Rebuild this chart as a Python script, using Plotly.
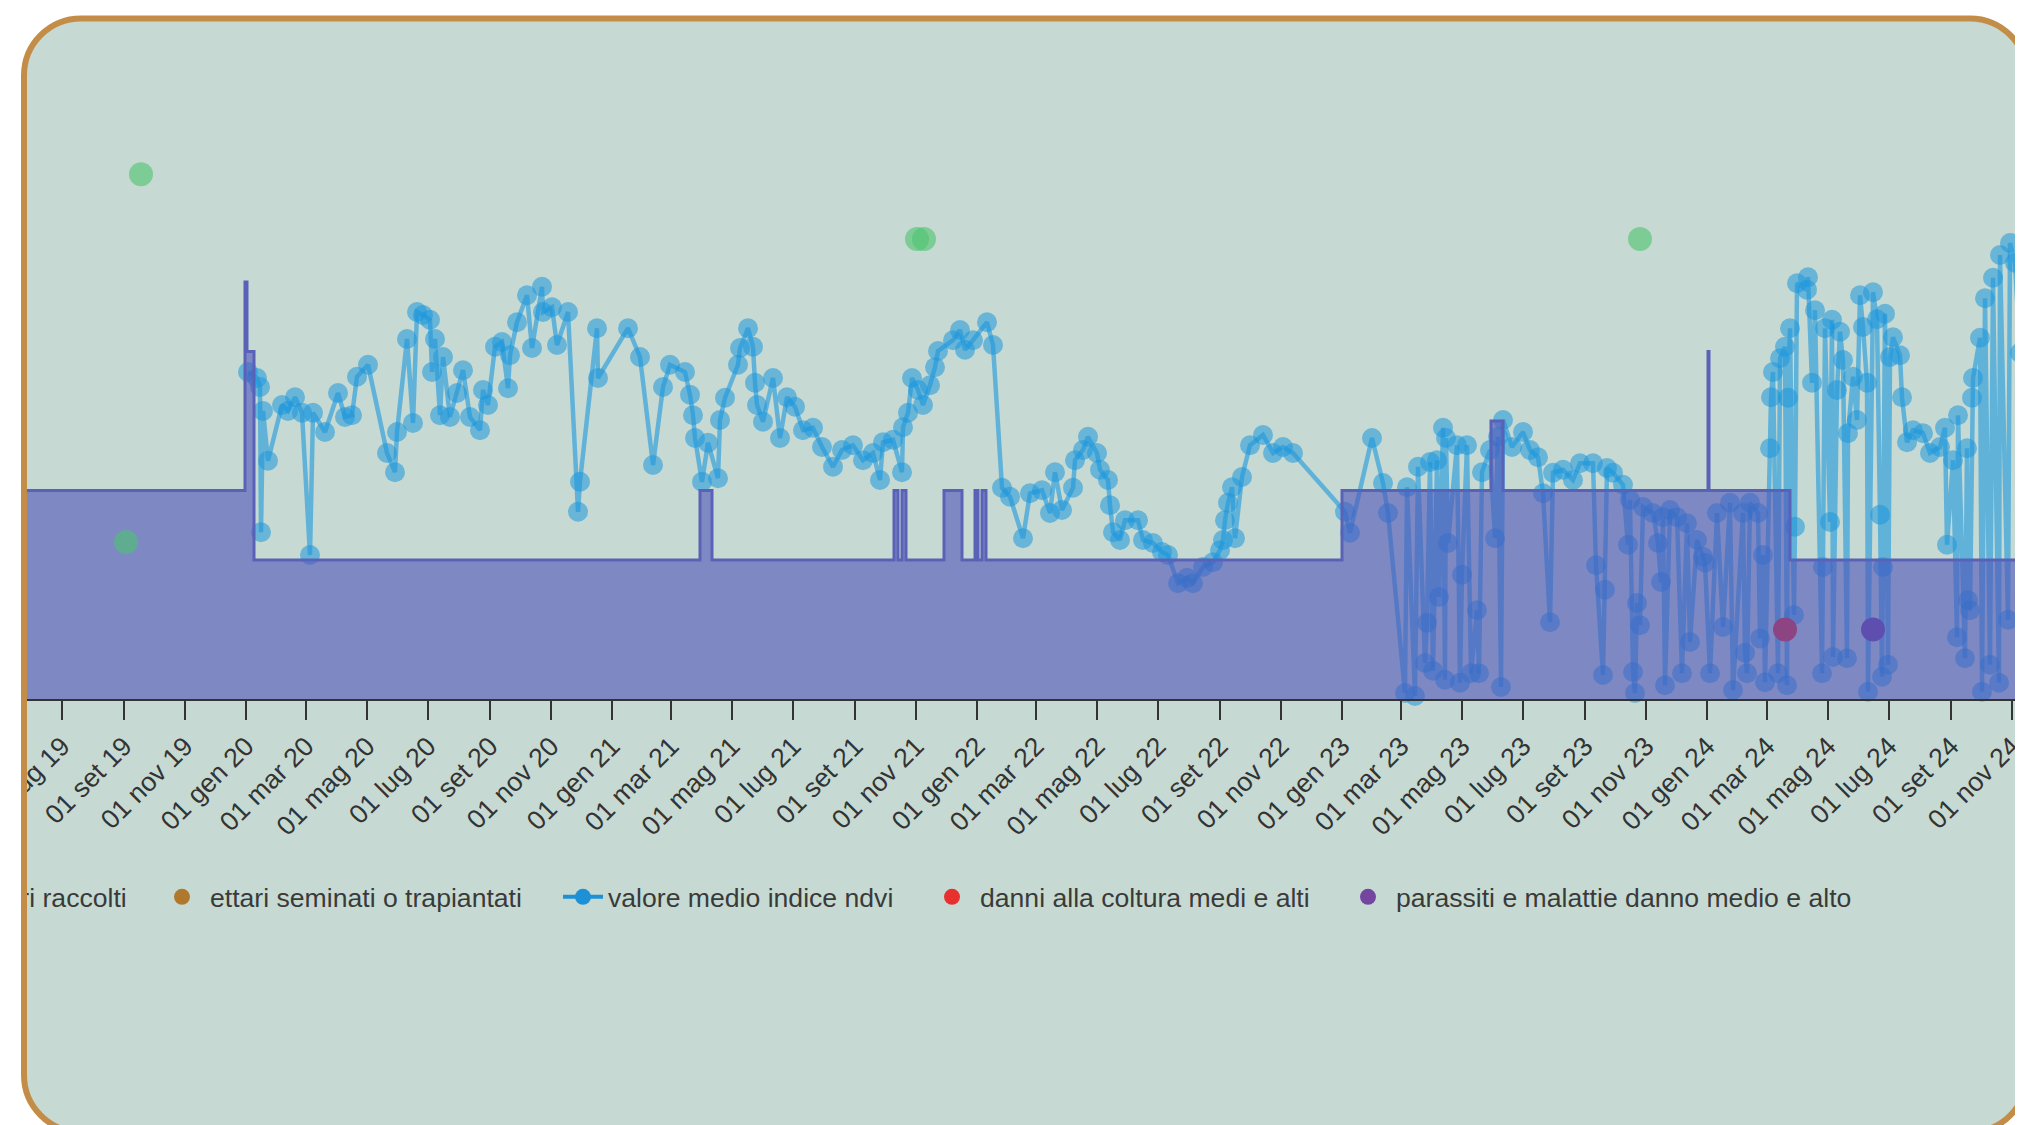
import plotly.graph_objects as go

# ---------------- DATA ----------------
tick_dates = ["2019-07-01", "2019-09-01", "2019-11-01", "2020-01-01", "2020-03-01", "2020-05-01",
              "2020-07-01", "2020-09-01", "2020-11-01", "2021-01-01", "2021-03-01", "2021-05-01",
              "2021-07-01", "2021-09-01", "2021-11-01", "2022-01-01", "2022-03-01", "2022-05-01",
              "2022-07-01", "2022-09-01", "2022-11-01", "2023-01-01", "2023-03-01", "2023-05-01",
              "2023-07-01", "2023-09-01", "2023-11-01", "2024-01-01", "2024-03-01", "2024-05-01",
              "2024-07-01", "2024-09-01", "2024-11-01"]
tick_labels = ["01 lug 19", "01 set 19", "01 nov 19", "01 gen 20", "01 mar 20", "01 mag 20",
               "01 lug 20", "01 set 20", "01 nov 20", "01 gen 21", "01 mar 21", "01 mag 21",
               "01 lug 21", "01 set 21", "01 nov 21", "01 gen 22", "01 mar 22", "01 mag 22",
               "01 lug 22", "01 set 22", "01 nov 22", "01 gen 23", "01 mar 23", "01 mag 23",
               "01 lug 23", "01 set 23", "01 nov 23", "01 gen 24", "01 mar 24", "01 mag 24",
               "01 lug 24", "01 set 24", "01 nov 24"]

# surface (ettari) step series
area_dates = ["2019-05-01", "2019-12-31", "2020-01-02", "2020-01-09", "2021-03-30", "2021-04-11",
              "2021-10-10", "2021-10-14", "2021-10-18", "2021-10-22", "2021-11-29", "2021-12-17",
              "2021-12-30", "2022-01-02", "2022-01-06", "2022-01-10", "2023-01-01", "2023-05-30",
              "2023-06-11", "2024-01-02", "2024-01-03", "2024-03-24", "2024-12-31"]
area_values = [3, 6, 5, 2, 3, 2, 3, 2, 3, 2, 3, 2, 3, 2, 3, 2, 3, 4, 3, 5, 3, 2, 2]

# valore medio indice ndvi
ndvi_dates_2020 = ["2020-01-03", "2020-01-12", "2020-01-15", "2020-01-16", "2020-01-18", "2020-01-23",
                   "2020-02-06", "2020-02-12", "2020-02-19", "2020-02-26", "2020-03-05", "2020-03-08",
                   "2020-03-20", "2020-04-02", "2020-04-09", "2020-04-16", "2020-04-21", "2020-05-02",
                   "2020-05-21", "2020-05-29", "2020-05-31", "2020-06-10", "2020-06-16", "2020-06-20",
                   "2020-06-26", "2020-07-03", "2020-07-05", "2020-07-08", "2020-07-13", "2020-07-16",
                   "2020-07-23", "2020-07-30", "2020-08-05", "2020-08-12", "2020-08-22", "2020-08-25",
                   "2020-08-30", "2020-09-06", "2020-09-13", "2020-09-19", "2020-09-21", "2020-09-28",
                   "2020-10-08", "2020-10-13", "2020-10-23", "2020-10-24", "2020-11-02", "2020-11-07",
                   "2020-11-18", "2020-11-28", "2020-11-30", "2020-12-17", "2020-12-18"]
ndvi_values_2020 = [0.545, 0.535, 0.52, 0.278, 0.48, 0.397, 0.49, 0.48, 0.503, 0.477,
                    0.24, 0.477, 0.445, 0.51, 0.47, 0.473, 0.537, 0.557, 0.41, 0.378,
                    0.445, 0.60, 0.46, 0.645, 0.64, 0.632, 0.545, 0.60, 0.473, 0.57,
                    0.47, 0.51, 0.548, 0.47, 0.448, 0.515, 0.49, 0.587, 0.595, 0.518,
                    0.573, 0.628, 0.673, 0.585, 0.687, 0.645, 0.653, 0.59, 0.645, 0.312,
                    0.362, 0.618, 0.535]

ndvi_dates_2021 = ["2021-01-17", "2021-01-29", "2021-02-11", "2021-02-21", "2021-02-28", "2021-03-15",
                   "2021-03-20", "2021-03-23", "2021-03-25", "2021-04-01", "2021-04-07", "2021-04-17",
                   "2021-04-19", "2021-04-24", "2021-05-07", "2021-05-09", "2021-05-17", "2021-05-22",
                   "2021-05-24", "2021-05-26", "2021-06-01", "2021-06-11", "2021-06-18", "2021-06-25",
                   "2021-07-03", "2021-07-11", "2021-07-21", "2021-07-30", "2021-08-10", "2021-08-19",
                   "2021-08-30", "2021-09-09", "2021-09-19", "2021-09-26", "2021-09-29", "2021-10-09",
                   "2021-10-18", "2021-10-19", "2021-10-24", "2021-10-28", "2021-11-03", "2021-11-08",
                   "2021-11-15", "2021-11-20", "2021-11-23", "2021-12-08", "2021-12-15", "2021-12-20",
                   "2021-12-28"]
ndvi_values_2021 = [0.618, 0.57, 0.39, 0.52, 0.557, 0.545, 0.507, 0.473, 0.435, 0.362,
                    0.427, 0.368, 0.465, 0.502, 0.557, 0.585, 0.618, 0.587, 0.527, 0.49,
                    0.462, 0.535, 0.435, 0.503, 0.487, 0.448, 0.452, 0.42, 0.387, 0.415,
                    0.423, 0.398, 0.41, 0.365, 0.428, 0.432, 0.378, 0.453, 0.477, 0.535,
                    0.515, 0.49, 0.523, 0.553, 0.58, 0.598, 0.615, 0.582, 0.598]

ndvi_dates_2022 = ["2022-01-11", "2022-01-17", "2022-01-26", "2022-02-03", "2022-02-16", "2022-02-23",
                   "2022-03-07", "2022-03-15", "2022-03-20", "2022-03-27", "2022-04-07", "2022-04-09",
                   "2022-04-17", "2022-04-22", "2022-05-01", "2022-05-04", "2022-05-12", "2022-05-14",
                   "2022-05-17", "2022-05-24", "2022-05-29", "2022-06-11", "2022-06-16", "2022-06-26",
                   "2022-07-05", "2022-07-11", "2022-07-21", "2022-07-30", "2022-08-05", "2022-08-15",
                   "2022-08-25", "2022-09-01", "2022-09-04", "2022-09-06", "2022-09-09", "2022-09-13",
                   "2022-09-16", "2022-09-23", "2022-10-01", "2022-10-14", "2022-10-24", "2022-11-03",
                   "2022-11-13"]
ndvi_values_2022 = [0.628, 0.59, 0.352, 0.337, 0.268, 0.343, 0.348, 0.31, 0.378, 0.315,
                    0.352, 0.398, 0.415, 0.437, 0.41, 0.382, 0.365, 0.323, 0.278, 0.265,
                    0.298, 0.298, 0.265, 0.26, 0.245, 0.24, 0.193, 0.202, 0.193, 0.22,
                    0.228, 0.248, 0.265, 0.298, 0.327, 0.353, 0.268, 0.37, 0.423, 0.44,
                    0.41, 0.42, 0.41]

ndvi_dates_2023 = ["2023-01-04", "2023-01-09", "2023-01-31", "2023-02-11", "2023-02-16", "2023-03-05",
                   "2023-03-07", "2023-03-15", "2023-03-18", "2023-03-25", "2023-03-27", "2023-03-30",
                   "2023-04-02", "2023-04-06", "2023-04-08", "2023-04-12", "2023-04-14", "2023-04-15",
                   "2023-04-17", "2023-04-26", "2023-04-29", "2023-05-01", "2023-05-06", "2023-05-10",
                   "2023-05-16", "2023-05-18", "2023-05-21", "2023-05-29", "2023-06-03", "2023-06-06",
                   "2023-06-09", "2023-06-11", "2023-06-20", "2023-07-01", "2023-07-08", "2023-07-16",
                   "2023-07-21", "2023-07-28", "2023-07-31", "2023-08-10", "2023-08-20", "2023-08-27",
                   "2023-09-09", "2023-09-12", "2023-09-19", "2023-09-21", "2023-09-23", "2023-09-29",
                   "2023-10-09", "2023-10-14", "2023-10-16", "2023-10-19", "2023-10-21", "2023-10-23",
                   "2023-10-26", "2023-10-29", "2023-11-08", "2023-11-13", "2023-11-16", "2023-11-18",
                   "2023-11-20", "2023-11-25", "2023-12-02", "2023-12-07", "2023-12-12", "2023-12-15",
                   "2023-12-22", "2023-12-28", "2023-12-30"]
ndvi_values_2023 = [0.312, 0.277, 0.435, 0.36, 0.31, 0.01, 0.353, 0.005, 0.387, 0.06,
                    0.127, 0.395, 0.047, 0.398, 0.17, 0.452, 0.032, 0.435, 0.26, 0.423,
                    0.027, 0.207, 0.423, 0.043, 0.148, 0.043, 0.378, 0.415, 0.268, 0.437,
                    0.02, 0.465, 0.42, 0.445, 0.415, 0.403, 0.343, 0.128, 0.377, 0.382,
                    0.365, 0.393, 0.393, 0.223, 0.04, 0.182, 0.385, 0.377, 0.357, 0.257,
                    0.332, 0.045, 0.01, 0.16, 0.123, 0.32, 0.31, 0.26, 0.195, 0.303,
                    0.023, 0.315, 0.303, 0.043, 0.293, 0.095, 0.265, 0.237, 0.227]

ndvi_dates_2024 = ["2024-01-04", "2024-01-11", "2024-01-17", "2024-01-24", "2024-01-27", "2024-02-06",
                   "2024-02-08", "2024-02-10", "2024-02-13", "2024-02-21", "2024-02-23", "2024-02-26",
                   "2024-02-28", "2024-03-04", "2024-03-05", "2024-03-07", "2024-03-12", "2024-03-14",
                   "2024-03-19", "2024-03-21", "2024-03-22", "2024-03-24", "2024-03-28", "2024-03-29",
                   "2024-03-31", "2024-04-10", "2024-04-11", "2024-04-15", "2024-04-18", "2024-04-25",
                   "2024-04-26", "2024-04-28", "2024-05-03", "2024-05-05", "2024-05-06", "2024-05-10",
                   "2024-05-13", "2024-05-16", "2024-05-20", "2024-05-21", "2024-05-26", "2024-05-30",
                   "2024-06-02", "2024-06-05", "2024-06-09", "2024-06-10", "2024-06-15", "2024-06-19",
                   "2024-06-22", "2024-06-24", "2024-06-25", "2024-06-27", "2024-06-30", "2024-07-02",
                   "2024-07-05", "2024-07-12", "2024-07-14", "2024-07-19", "2024-07-25", "2024-08-04",
                   "2024-08-11", "2024-08-21", "2024-08-26", "2024-08-28", "2024-09-03", "2024-09-07",
                   "2024-09-08", "2024-09-15", "2024-09-17", "2024-09-18", "2024-09-20", "2024-09-22",
                   "2024-09-23", "2024-09-30", "2024-10-02", "2024-10-05", "2024-10-10", "2024-10-13",
                   "2024-10-19", "2024-10-20", "2024-10-28", "2024-10-30", "2024-11-04", "2024-11-09"]
ndvi_values_2024 = [0.043, 0.31, 0.12, 0.327, 0.015, 0.31, 0.077, 0.043, 0.327, 0.31,
                    0.101, 0.24, 0.028, 0.418, 0.503, 0.545, 0.043, 0.568, 0.587, 0.023,
                    0.502, 0.618, 0.14, 0.287, 0.693, 0.682, 0.703, 0.527, 0.648, 0.043,
                    0.22, 0.618, 0.295, 0.632, 0.07, 0.515, 0.612, 0.565, 0.068, 0.443,
                    0.537, 0.465, 0.673, 0.62, 0.527, 0.012, 0.678, 0.633, 0.307, 0.037,
                    0.22, 0.642, 0.057, 0.57, 0.603, 0.573, 0.503, 0.428, 0.448, 0.443,
                    0.41, 0.42, 0.452, 0.257, 0.398, 0.103, 0.473, 0.068, 0.418, 0.165,
                    0.148, 0.502, 0.535, 0.602, 0.012, 0.668, 0.057, 0.702, 0.027, 0.74,
                    0.132, 0.76, 0.727, 0.577]

# ettari raccolti
raccolti_dates = ["2019-09-03", "2019-09-18", "2021-11-02", "2021-11-09", "2023-10-26"]
raccolti_values = [2.26, 7.55, 6.62, 6.62, 6.62]
# danni alla coltura medi e alti
danni_dates = ["2024-03-19"]
danni_values = [1.0]
# parassiti e malattie danno medio e alto
parassiti_dates = ["2024-06-15"]
parassiti_values = [1.0]

names = ["ettari raccolti", "ettari seminati o trapiantati", "valore medio indice ndvi",
         "danni alla coltura medi e alti", "parassiti e malattie danno medio e alto"]

# ---------------- LAYOUT CONSTANTS ----------------
OFF = 8                      # page body margin
W, H = 2023 - OFF, 1125 - OFF
PL, PT, PB = 27, 99, 699     # plot area left / top / bottom in page px
PR = OFF + W                 # plot area right in page px
PLOT_W, PLOT_H = PR - PL, PB - PT
FONT = "Liberation Sans, Arial, sans-serif"
FS = 26.6
BORDER = "#C48D47"

ndvi_dates = ndvi_dates_2020 + ndvi_dates_2021 + ndvi_dates_2022 + ndvi_dates_2023 + ndvi_dates_2024
ndvi_values = ndvi_values_2020 + ndvi_values_2021 + ndvi_values_2022 + ndvi_values_2023 + ndvi_values_2024


def px(x):
    return (x - PL) / PLOT_W


def py(y):
    return (PB - y) / PLOT_H


def P(x, y):
    return f"{px(x):.5f},{py(y):.5f}"


def rounded(x0, y0, x1, y1, r):
    k = 0.5523 * r
    return (f"M{P(x0 + r, y0)} L{P(x1 - r, y0)} C{P(x1 - r + k, y0)} {P(x1, y0 + r - k)} {P(x1, y0 + r)} "
            f"L{P(x1, y1 - r)} C{P(x1, y1 - r + k)} {P(x1 - r + k, y1)} {P(x1 - r, y1)} "
            f"L{P(x0 + r, y1)} C{P(x0 + r - k, y1)} {P(x0, y1 - r + k)} {P(x0, y1 - r)} "
            f"L{P(x0, y0 + r)} C{P(x0, y0 + r - k)} {P(x0 + r - k, y0)} {P(x0 + r, y0)} Z")


box = rounded(24, 18.5, 2027, 1132, 57)
frame = f"M{P(-60, -60)} L{P(-60, 1300)} L{P(2300, 1300)} L{P(2300, -60)} Z " + box

fig = go.Figure()

# damage markers sit underneath the translucent surface
fig.add_trace(go.Scatter(x=danni_dates, y=danni_values, yaxis="y2", name=names[3], mode="markers",
                         marker=dict(size=24, color="#E8302E"), showlegend=False))
fig.add_trace(go.Scatter(x=parassiti_dates, y=parassiti_values, yaxis="y2", name=names[4], mode="markers",
                         marker=dict(size=24, color="#7446A0"), showlegend=False))

fig.add_trace(go.Scatter(x=area_dates, y=area_values, yaxis="y2", mode="lines",
                         line=dict(shape="hv", color="#5A62B7", width=3),
                         fill="tozeroy", fillcolor="rgba(78,83,186,0.6)",
                         showlegend=False, hoverinfo="skip"))

fig.add_trace(go.Scatter(x=ndvi_dates, y=ndvi_values, name=names[2], mode="lines+markers",
                         line=dict(color="rgba(30,152,220,0.6)", width=4.5),
                         marker=dict(size=20, color="rgba(30,152,220,0.55)"),
                         cliponaxis=False, showlegend=False))

fig.add_trace(go.Scatter(x=raccolti_dates, y=raccolti_values, yaxis="y2", name=names[0], mode="markers",
                         marker=dict(size=24, color="rgba(76,195,110,0.6)"), showlegend=False))

# legend entries (solid colours, one legend each)
legend_colors = ["#4CC36E", "#B0782C", "#1E90D6", "#E8302E", "#7446A0"]
legend_ids = ["legend", "legend2", "legend3", "legend4", "legend5"]
for i, (nm, col, lid) in enumerate(zip(names, legend_colors, legend_ids)):
    if i == 2:
        fig.add_trace(go.Scatter(x=[None], y=[None], name=nm, mode="lines+markers", legend=lid,
                                 line=dict(color=col, width=4), marker=dict(size=16, color=col)))
    else:
        fig.add_trace(go.Scatter(x=[None], y=[None], name=nm, mode="markers", legend=lid,
                                 marker=dict(size=16, color=col)))

# legend item starts (page px), item widths
leg_left = [-80, 154, 558, 924, 1340]
leg_iw = [46, 46, 40, 46, 46]
legend_y = py(897)
leg_layout = {}
for lid, lx, iw in zip(legend_ids, leg_left, leg_iw):
    leg_layout[lid] = dict(x=px(lx), y=legend_y, xanchor="left", yanchor="middle",
                           orientation="h", itemwidth=iw, bgcolor="rgba(0,0,0,0)",
                           borderwidth=0, font=dict(family=FONT, size=FS, color="#3a3a3a"))

# cover the part of the first legend entry that lies outside the rounded container
covers = [
    dict(xref="paper", yref="paper", x=px(OFF), y=py(897), xanchor="left", yanchor="middle",
         text="\u00a0", showarrow=False, width=21 - OFF, height=56, bgcolor="white",
         borderpad=0, borderwidth=0, font=dict(size=2)),
    dict(xref="paper", yref="paper", x=px(21), y=py(897), xanchor="left", yanchor="middle",
         text="\u00a0", showarrow=False, width=6, height=56, bgcolor=BORDER,
         borderpad=0, borderwidth=0, font=dict(size=2)),
]

fig.update_layout(
    width=W, height=H,
    margin=dict(l=PL - OFF, r=0, t=PT - OFF, b=H - (PB - OFF), autoexpand=False),
    paper_bgcolor="white", plot_bgcolor="rgba(0,0,0,0)",
    font=dict(family=FONT, size=FS, color="#333333"),
    xaxis=dict(type="date", range=["2019-05-27", "2024-11-12"], tickmode="array",
               tickvals=tick_dates, ticktext=tick_labels, tickangle=-45,
               ticks="outside", ticklen=19, tickwidth=2, tickcolor="#333333",
               ticklabeloverflow="allow",
               showline=True, linecolor="#333333", linewidth=2, showgrid=False, zeroline=False,
               tickfont=dict(family=FONT, size=FS, color="#333333")),
    yaxis=dict(range=[0, 1], visible=False, fixedrange=True),
    yaxis2=dict(range=[0, PLOT_H / 69.5], overlaying="y", visible=False),
    shapes=[
        dict(type="path", xref="paper", yref="paper", path=box, fillcolor="#C6DAD3",
             line=dict(width=0), layer="below"),
        dict(type="path", xref="paper", yref="paper", path=frame, fillcolor="white",
             fillrule="evenodd", line=dict(width=0), layer="above"),
        dict(type="path", xref="paper", yref="paper", path=box, fillcolor="rgba(0,0,0,0)",
             line=dict(color=BORDER, width=6), layer="above"),
    ],
    annotations=covers,
    hovermode=False,
    **leg_layout,
)

fig.write_html("out.html")
